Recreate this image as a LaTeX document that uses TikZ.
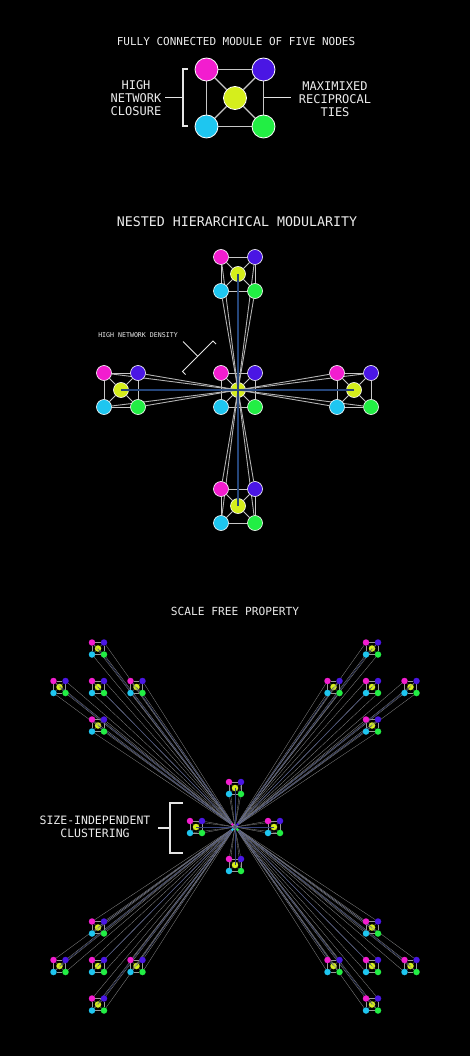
\documentclass[tikz,border=0pt]{standalone}
\usepackage{fontspec}
\setmonofont{DejaVu Sans Mono}

\pgfdeclarelayer{bottom}
\pgfdeclarelayer{links}
\pgfsetlayers{bottom,links,main}

\definecolor{magentanode}{HTML}{F21DCF}
\definecolor{bluenode}{HTML}{4A16E4}
\definecolor{yellownode}{HTML}{D5EE1C}
\definecolor{cyannode}{HTML}{1EC6F0}
\definecolor{greennode}{HTML}{22EE44}
\definecolor{tieblue}{HTML}{26467A}
\definecolor{faintblue}{HTML}{34407A}

\tikzset{
  vertex/.style={circle, inner sep=0pt, draw=white},
  edge/.style={draw=white!78!black},
  tie/.style={draw=white!70!black},
  bluetie/.style={draw=tieblue},
  bracket/.style={draw=white!90!black, line width=1.2pt},
  caption/.style={text=white!92!black, align=center},
}

\newcommand{\Module}[3]{%
  \begin{pgfonlayer}{bottom}
    \node[vertex, fill=yellownode] (#1y) at (#2,#3) {};
  \end{pgfonlayer}
  \node[vertex, fill=magentanode] (#1m) at (#2-\half,#3-\half) {};
  \node[vertex, fill=bluenode]    (#1b) at (#2+\half,#3-\half) {};
  \node[vertex, fill=cyannode]    (#1c) at (#2-\half,#3+\half) {};
  \node[vertex, fill=greennode]   (#1g) at (#2+\half,#3+\half) {};
  \begin{pgfonlayer}{links}
    \draw[edge] (#1m) -- (#1b) -- (#1g) -- (#1c) -- (#1m);
    \foreach \k in {m,b,c,g} {\draw[edge] (#1y) -- (#1\k);}
  \end{pgfonlayer}}

\newcommand{\Ties}[2]{%
  \begin{pgfonlayer}{links}
    \foreach \k in {m,b,c,g} {\draw[tie] (#1\k) -- (#2.center);}
    \draw[bluetie] (#1y.center) -- (#2.center);
  \end{pgfonlayer}}

\begin{document}
\begin{tikzpicture}[x=1pt, y=-1pt]
  \begin{pgfonlayer}{bottom}
    \fill[black] (0,0) rectangle (470,1056);
  \end{pgfonlayer}

  \begin{scope}[vertex/.append style={minimum size=23pt, line width=0.8pt},
                edge/.append style={line width=1.3pt}]
    \def\half{28.5}
    \Module{A}{235}{98}
  \end{scope}
  \node[caption, font=\ttfamily\fontsize{11}{13}\selectfont] (title1) at (236,41) {FULLY CONNECTED MODULE OF FIVE NODES};
  \node[caption, font=\ttfamily\fontsize{12}{13}\selectfont] (closure) at (136,98) {HIGH\\NETWORK\\CLOSURE};
  \node[caption, font=\ttfamily\fontsize{12}{13}\selectfont] (reciprocal) at (335,99) {MAXIMIXED\\RECIPROCAL\\TIES};
  \draw[bracket] (188,69) -- (183,69) -- (183,126) -- (188,126);
  \draw[bracket] (183,97.5) -- (165,97.5);
  \draw[bracket] (263.5,97.5) -- (291,97.5);

  \node[caption, font=\ttfamily\fontsize{13.3}{15}\selectfont] (title2) at (237,222) {NESTED HIERARCHICAL MODULARITY};
  \begin{scope}[vertex/.append style={minimum size=15pt, line width=0.6pt},
                edge/.append style={line width=0.9pt},
                tie/.append style={line width=0.9pt},
                bluetie/.append style={line width=2.8pt}]
    \def\half{17}
    \Module{C}{238}{390}
    \Module{T}{238}{274}
    \Module{L}{121}{390}
    \Module{R}{354}{390}
    \Module{B}{238}{506}
    \foreach \q in {T,L,R,B} {\Ties{\q}{Cy}}
  \end{scope}
  \node[caption, font=\ttfamily\fontsize{6.6}{8}\selectfont] (density) at (138,335) {HIGH NETWORK DENSITY};
  \draw[bracket, line width=1pt] (185.5,374.5) -- (182.5,371.5) -- (213,341) -- (216,344);
  \draw[bracket, line width=1pt] (197.7,356.2) -- (183,341.5);

  \node[caption, font=\ttfamily\fontsize{11.2}{13}\selectfont] (title3) at (235,611) {SCALE FREE PROPERTY};
  \begin{scope}[vertex/.append style={minimum size=6.5pt, draw=none},
                edge/.append style={draw=white!60!black, line width=0.35pt},
                tie/.append style={draw=white!55!black, line width=0.3pt},
                bluetie/.append style={draw=faintblue, line width=0.35pt}]
    \begin{scope}[vertex/.append style={minimum size=3pt},
                  edge/.append style={line width=0.4pt}]
      \def\half{2.6}
      \Module{H}{235}{827}
    \end{scope}
    \def\half{6}
    \Module{N1}{235}{788}
    \Module{N2}{196}{827}
    \Module{N3}{274}{827}
    \Module{N4}{235}{865}
    \foreach \j in {1,...,4} {\Ties{N\j}{Hy}}
    \foreach \cx/\cy/\q in {98/687/P, 372/687/Q, 98/966/S, 372/966/U} {
      \Module{\q0}{\cx}{\cy}
      \Module{\q1}{\cx}{\cy-38.5}
      \Module{\q2}{\cx-38.5}{\cy}
      \Module{\q3}{\cx+38.5}{\cy}
      \Module{\q4}{\cx}{\cy+38.5}
      \foreach \j in {0,...,4} {\Ties{\q\j}{Hy}}
    }
  \end{scope}
  \node[caption, font=\ttfamily\fontsize{11.5}{12.5}\selectfont] (clustering) at (95,827) {SIZE-INDEPENDENT\\CLUSTERING};
  \draw[bracket] (183,803) -- (170,803) -- (170,853) -- (183,853);
  \draw[bracket] (170,828) -- (158,828);
\end{tikzpicture}
\end{document}
